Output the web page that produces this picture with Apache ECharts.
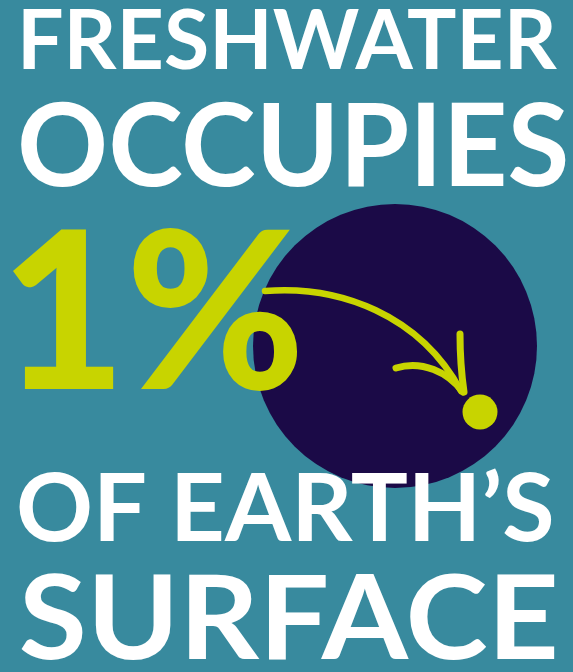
<!DOCTYPE html>
<html><head><meta charset="utf-8">
<script src="https://cdn.jsdelivr.net/npm/echarts@6/dist/echarts.min.js"></script>
<style>html,body{margin:0;padding:0;background:#388a9e;}#c{width:573px;height:672px;}</style>
</head><body><div id="c"></div>
<script>
const headlineTop = ['FRESHWATER', 'OCCUPIES'];
const headlineBottom = ['OF EARTH\u2019S', 'SURFACE'];
const freshwaterPercent = [1];
const surfaceShares = [{name: 'Earth surface', value: 100}];

const bg = '#388a9e', navy = '#1b0a47', lime = '#c8d400';
const chart = echarts.init(document.getElementById('c'), null, {renderer: 'canvas'});

const mctx = document.createElement('canvas').getContext('2d');
// fit text horizontally into [left,right], centred vertically on cy
function txt(t, left, right, cy, size, weight, color) {
  const font = weight + ' ' + size + 'px Lato';
  mctx.font = font;
  const m = mctx.measureText(t);
  const inkL = -m.actualBoundingBoxLeft, inkR = m.actualBoundingBoxRight;
  const inkW = inkR - inkL;
  const sx = (right - left) / inkW;
  const x = left - inkL * sx;
  return {type: 'text', z: 10, x: x, y: cy, scaleX: sx, originX: 0,
    style: {text: t, x: 0, y: 0, fill: color, font: font, textAlign: 'left', textVerticalAlign: 'middle'}};
}

chart.setOption({
  backgroundColor: bg,
  animation: false,
  series: [{
    type: 'pie', center: [395, 346], radius: [0, 142], silent: true, z: 1,
    label: {show: false}, labelLine: {show: false},
    itemStyle: {color: navy},
    data: surfaceShares
  }],
  graphic: [
    txt(headlineTop[0], 23, 557, 42.5, 82, 'bold', '#ffffff'),
    txt(headlineTop[1], 21, 566, 149, 114, 'bold', '#ffffff'),
    txt(freshwaterPercent[0] + '%', 12, 298, 318, 219, '900', lime),
    txt(headlineBottom[0], 19, 552, 511, 94, 'bold', '#ffffff'),
    txt(headlineBottom[1], 21, 555, 621.5, 116, 'bold', '#ffffff'),
    {type: 'circle', z: 5, shape: {cx: 480, cy: 412, r: 17.5}, style: {fill: lime}},
    {type: 'bezierCurve', z: 6, shape: {x1: 265, y1: 291, cpx1: 340, cpy1: 285, cpx2: 420, cpy2: 315, x2: 461, y2: 391},
      style: {stroke: lime, lineWidth: 6.5, fill: null, lineCap: 'round'}},
    {type: 'bezierCurve', z: 6, shape: {x1: 460, y1: 334, cpx1: 460, cpy1: 360, cpx2: 462, cpy2: 378, x2: 464, y2: 392},
      style: {stroke: lime, lineWidth: 7, fill: null, lineCap: 'round'}},
    {type: 'bezierCurve', z: 6, shape: {x1: 396, y1: 368, cpx1: 422, cpy1: 360, cpx2: 448, cpy2: 372, x2: 463, y2: 392},
      style: {stroke: lime, lineWidth: 7, fill: null, lineCap: 'round'}}
  ]
});
</script></body></html>
